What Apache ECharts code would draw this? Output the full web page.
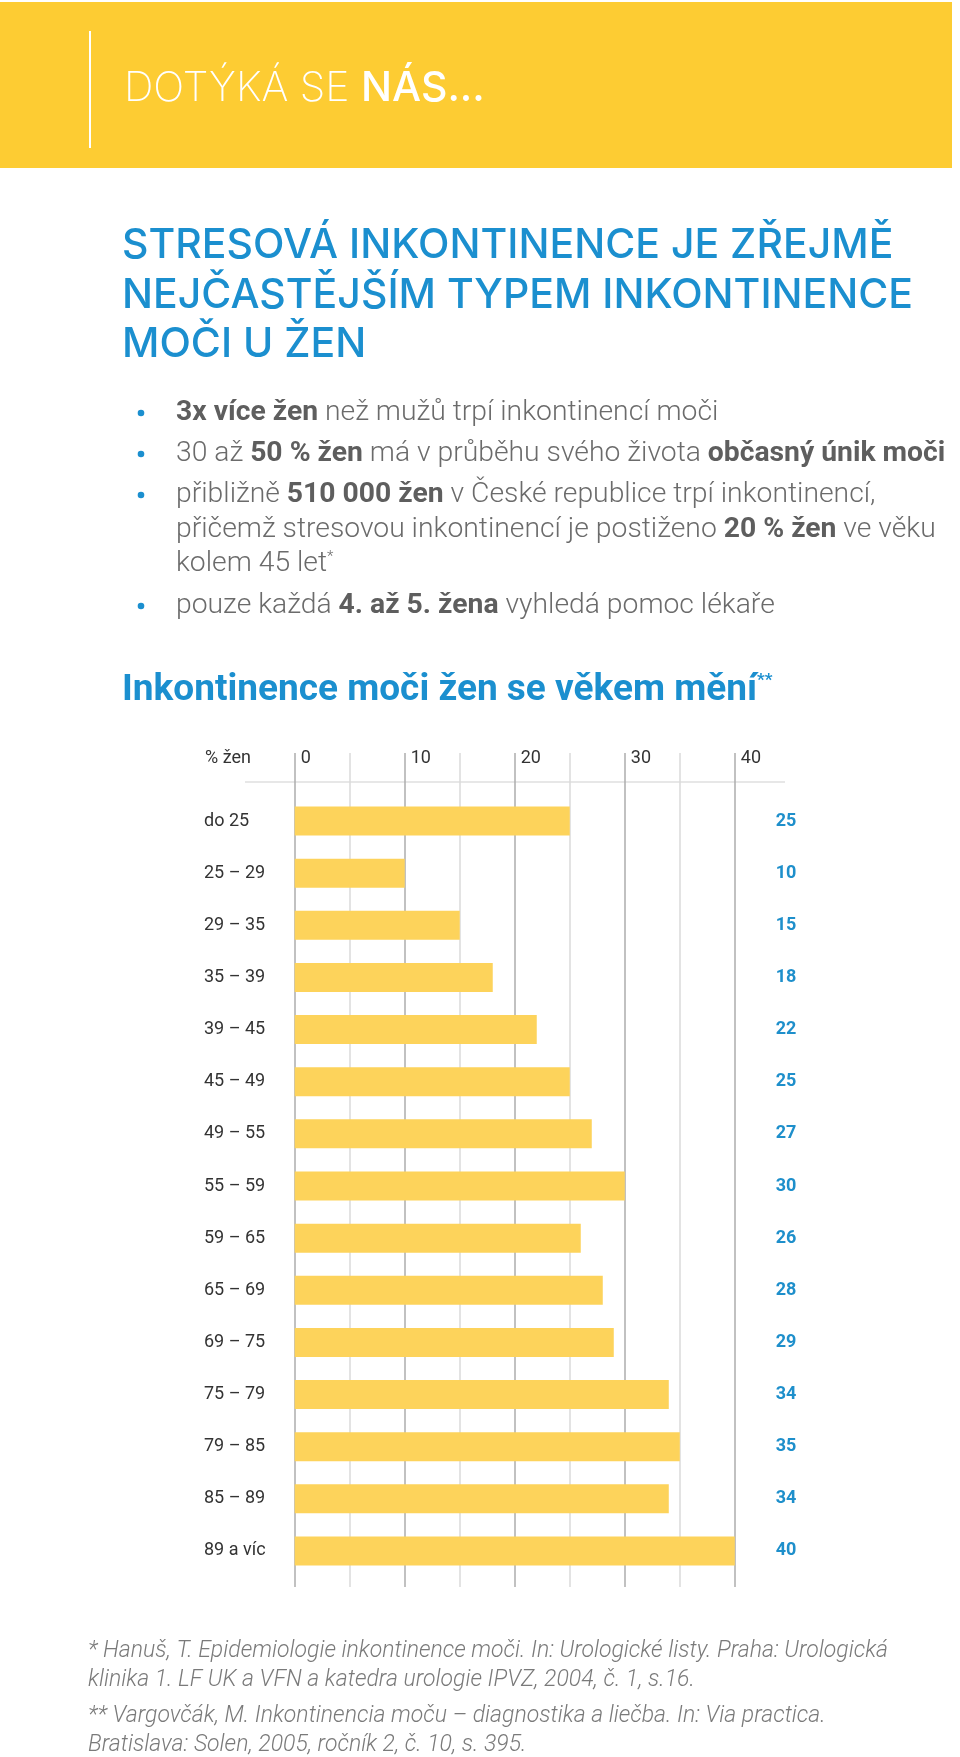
<!DOCTYPE html>
<html><head><meta charset="utf-8">
<script src="https://cdn.jsdelivr.net/npm/echarts@6/dist/echarts.min.js"></script>
<style>html,body{margin:0;padding:0;background:#fff}#c{width:960px;height:1757px}</style>
</head><body><div id="c"></div>
<script>
// ---- data ----
const categories = ['do 25','25 – 29','29 – 35','35 – 39','39 – 45','45 – 49','49 – 55','55 – 59','59 – 65','65 – 69','69 – 75','75 – 79','79 – 85','85 – 89','89 a víc'];
const values = [25,10,15,18,22,25,27,30,26,28,29,34,35,34,40];
const axisMin = 0, axisMax = 40, axisStep = 5;
const tickLabelStep = 10;
const axisUnitLabel = '% žen';

const BLUE = '#1B8FCF';
const GRAY = '#6b6b6b';

const chart = echarts.init(document.getElementById('c'), null, {renderer:'canvas'});

const bulletFont = 'Roboto';
const bullets = [
  {y:413, text:'{b|3x více žen}{n| než mužů trpí inkontinencí moči}'},
  {y:454, text:'{n|30 až }{b|50 % žen}{n| má v průběhu svého života }{b|občasný únik moči}'},
  {y:495, text:'{n|přibližně }{b|510 000 žen}{n| v České republice trpí inkontinencí,}'},
  {y:530, text:'{n|přičemž stresovou inkontinencí je postiženo }{b|20 % žen}{n| ve věku}', nodot:true},
  {y:564, text:'{n|kolem 45 let}{s|*}', nodot:true},
  {y:606, text:'{n|pouze každá }{b|4. až 5. žena}{n| vyhledá pomoc lékaře}'}
];
const bulletRich = {
  n:{fontFamily:bulletFont, fontWeight:300, fontSize:28.3, fill:GRAY, color:GRAY},
  b:{fontFamily:bulletFont, fontWeight:700, fontSize:28.3, fill:'#5e5e5e', color:'#5e5e5e'},
  s:{fontFamily:bulletFont, fontWeight:300, fontSize:15, fill:GRAY, color:GRAY, verticalAlign:'top', padding:[0,0,12,0]}
};

const footFont = 'italic 300 23px Roboto';
const graphics = [
  {type:'rect', shape:{x:0,y:2,width:952,height:166}, style:{fill:'#FDCC33'}, silent:true},
  {type:'rect', shape:{x:89,y:31,width:2,height:117}, style:{fill:'#ffffff'}, silent:true},
  {type:'text', x:124, y:89, style:{
    text:'{l|DOTÝKÁ SE }{m|NÁS...}', verticalAlign:'middle',
    rich:{
      l:{fontFamily:'Inter', fontWeight:200, fontSize:41, fill:'#fff', color:'#fff'},
      m:{fontFamily:'Inter', fontWeight:500, fontSize:41, fill:'#fff', color:'#fff'}
    }}},
  {type:'text', x:122, y:246, style:{text:'STRESOVÁ INKONTINENCE JE ZŘEJMĚ', font:'500 41px Inter', fill:BLUE, verticalAlign:'middle'}},
  {type:'text', x:122, y:296, style:{text:'NEJČASTĚJŠÍM TYPEM INKONTINENCE', font:'500 41px Inter', fill:BLUE, verticalAlign:'middle'}},
  {type:'text', x:122, y:345, style:{text:'MOČI U ŽEN', font:'500 41px Inter', fill:BLUE, verticalAlign:'middle'}},
  {type:'text', x:122, y:691, style:{
    text:'{t|Inkontinence moči žen se věkem mění}{s|**}', verticalAlign:'middle',
    rich:{
      t:{fontFamily:'Roboto', fontWeight:700, fontSize:37, fill:BLUE, color:BLUE},
      s:{fontFamily:'Roboto', fontWeight:700, fontSize:17, fill:BLUE, color:BLUE, verticalAlign:'top', padding:[0,0,15,0]}
    }}},
  {type:'text', x:205, y:758, style:{text:axisUnitLabel, font:'400 18px Roboto', fill:'#333', verticalAlign:'middle'}},
  {type:'line', shape:{x1:245,y1:782,x2:785,y2:782}, style:{stroke:'#cfcfcf', lineWidth:1}, silent:true},
  {type:'text', x:88, y:1651, style:{text:'* Hanuš, T. Epidemiologie inkontinence moči. In: Urologické listy. Praha: Urologická', font:footFont, fill:'#7a7a7a', verticalAlign:'middle'}},
  {type:'text', x:88, y:1680, style:{text:'klinika 1. LF UK a VFN a katedra urologie IPVZ, 2004, č. 1, s.16.', font:footFont, fill:'#7a7a7a', verticalAlign:'middle'}},
  {type:'text', x:88, y:1716, style:{text:'** Vargovčák, M. Inkontinencia moču – diagnostika a liečba. In: Via practica.', font:footFont, fill:'#7a7a7a', verticalAlign:'middle'}},
  {type:'text', x:88, y:1745, style:{text:'Bratislava: Solen, 2005, ročník 2, č. 10, s. 395.', font:footFont, fill:'#7a7a7a', verticalAlign:'middle'}}
];
bullets.forEach(b => {
  if (!b.nodot) graphics.push({type:'circle', shape:{cx:141, cy:b.y, r:3.3}, style:{fill:BLUE}});
  graphics.push({type:'text', x:176, y:b.y, style:{text:b.text, rich:bulletRich, verticalAlign:'middle'}});
});

const gridLeft = 294.7, gridRight = 960 - 734.8;

chart.setOption({
  animation:false,
  backgroundColor:'#ffffff',
  grid:[
    {left:gridLeft, right:gridRight, top:753, height:834},
    {left:gridLeft, right:gridRight, top:795, height:782}
  ],
  xAxis:[
    {gridIndex:0, type:'value', min:axisMin, max:axisMax, interval:axisStep, position:'top',
     axisLine:{show:false}, axisTick:{show:false},
     splitLine:{show:true, lineStyle:{color:['#adadad','#dadada'], width:1.5}},
     axisLabel:{inside:true, margin:5, align:'left', verticalAlign:'middle', padding:[0,0,0,6],
       fontFamily:'Roboto', fontWeight:400, fontSize:18, color:'#333',
       formatter: v => (v % tickLabelStep === 0 ? String(v) : '')}},
    {gridIndex:1, type:'value', min:axisMin, max:axisMax, show:false}
  ],
  yAxis:[
    {gridIndex:0, type:'value', show:false},
    {gridIndex:1, type:'category', data:categories, inverse:true,
     axisLine:{show:false}, axisTick:{show:false}, splitLine:{show:false},
     axisLabel:{align:'left', margin:90.7, fontFamily:'Roboto', fontWeight:400, fontSize:18, color:'#333'}}
  ],
  series:[{
    type:'bar', xAxisIndex:1, yAxisIndex:1, data:values, barWidth:29,
    itemStyle:{color:'#FDD35B'},
    label:{show:true, position:[481,'50%'], verticalAlign:'middle', align:'left',
      fontFamily:'Roboto', fontWeight:700, fontSize:18, color:'#1E8FCB'}
  }],
  graphic:graphics
});
</script></body></html>
